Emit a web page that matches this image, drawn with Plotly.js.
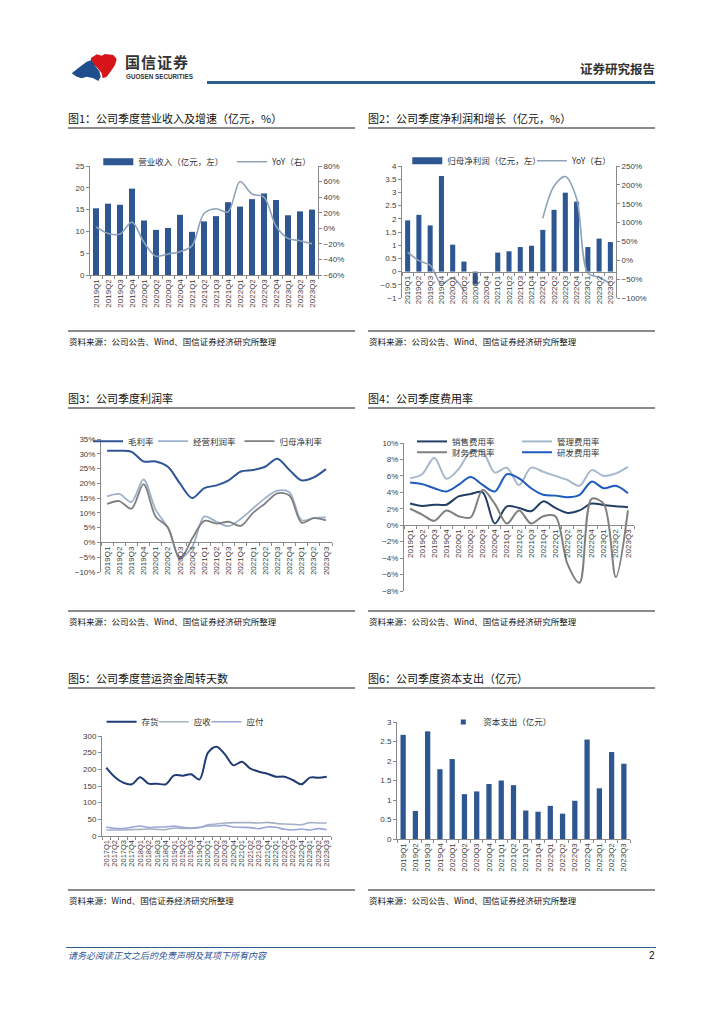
<!DOCTYPE html>
<html><head><meta charset="utf-8">
<script src="https://cdn.plot.ly/plotly-3.0.1.min.js"></script>
<style>
body{margin:0;background:#fff;}
#page{position:relative;width:724px;height:1024px;overflow:hidden;background:#fff;font-family:"Noto Sans CJK SC","Noto Sans",sans-serif;}
.abs{position:absolute;white-space:nowrap;}
.ttl{font-size:11px;color:#111;line-height:14px;}
.src{font-size:8.5px;color:#111;line-height:12px;}
.rule{position:absolute;height:1.5px;background:#8c8c8c;}
.chart{position:absolute;}
</style></head><body><div id="page">
<svg class="abs" style="left:68px;top:50px" width="52" height="36" viewBox="0 0 52 36">
<polygon fill="#D7141A" points="22.7,8.3 28.7,4.3 33.7,5.7 37,4 45.3,5 48.7,9 47,15 43.7,20 38.7,26.7 34.7,28.3 33.7,23.3 29.3,17.7 23.7,13.3"/>
<polygon fill="#1F4E8C" points="3.7,23.3 12,16.7 18.7,11.7 23.7,10 27,15.7 31.3,21 32.7,26.7 30.3,31 25.3,28.3 18.7,26.7 13.7,28.3 8.7,26.7"/>
</svg>
<div class="abs" style="left:125px;top:52px;font-size:15px;font-weight:700;color:#333;letter-spacing:1px;line-height:20px">国信证券</div>
<div class="abs" style="left:126px;top:73px;font-size:6.3px;font-weight:700;color:#333;font-family:'Liberation Sans',Arial,sans-serif;line-height:8px">GUOSEN SECURITIES</div>
<div class="abs" style="left:580px;top:61px;font-size:12.5px;font-weight:700;color:#333;line-height:16px">证券研究报告</div>
<div class="abs" style="left:207px;top:81px;width:448px;height:2.5px;background:#2E5C8E"></div>

<div class="abs ttl" style="left:68px;top:111px">图1：公司季度营业收入及增速（亿元，%）</div>
<div class="abs ttl" style="left:368px;top:111px">图2：公司季度净利润和增长（亿元，%）</div>
<div class="rule" style="left:68px;top:127px;width:287px"></div>
<div class="rule" style="left:368px;top:127px;width:287px"></div>
<div class="rule" style="left:68px;top:330px;width:287px"></div>
<div class="rule" style="left:368px;top:330px;width:287px"></div>
<div class="abs src" style="left:69px;top:335px">资料来源：公司公告、Wind、国信证券经济研究所整理</div>
<div class="abs src" style="left:369px;top:335px">资料来源：公司公告、Wind、国信证券经济研究所整理</div>

<div class="abs ttl" style="left:68px;top:391px">图3：公司季度利润率</div>
<div class="abs ttl" style="left:368px;top:391px">图4：公司季度费用率</div>
<div class="rule" style="left:68px;top:407px;width:287px"></div>
<div class="rule" style="left:368px;top:407px;width:287px"></div>
<div class="rule" style="left:68px;top:610px;width:287px"></div>
<div class="rule" style="left:368px;top:610px;width:287px"></div>
<div class="abs src" style="left:69px;top:615px">资料来源：公司公告、Wind、国信证券经济研究所整理</div>
<div class="abs src" style="left:369px;top:615px">资料来源：公司公告、Wind、国信证券经济研究所整理</div>

<div class="abs ttl" style="left:68px;top:671px">图5：公司季度营运资金周转天数</div>
<div class="abs ttl" style="left:368px;top:671px">图6：公司季度资本支出（亿元）</div>
<div class="rule" style="left:68px;top:687px;width:287px"></div>
<div class="rule" style="left:368px;top:687px;width:287px"></div>
<div class="rule" style="left:68px;top:889px;width:287px"></div>
<div class="rule" style="left:368px;top:889px;width:287px"></div>
<div class="abs src" style="left:69px;top:894px">资料来源：Wind、国信证券经济研究所整理</div>
<div class="abs src" style="left:369px;top:894px">资料来源：公司公告、Wind、国信证券经济研究所整理</div>

<div class="abs" style="left:66px;top:947px;width:590px;height:1px;background:#2E5C8E"></div>
<div class="abs" style="left:68px;top:950px;font-size:9px;font-style:italic;color:#2F5597;line-height:12px">请务必阅读正文之后的免责声明及其项下所有内容</div>
<div class="abs" style="left:649px;top:950px;font-size:10px;color:#111;line-height:12px;font-family:'Liberation Sans',Arial,sans-serif">2</div>

<div id="c1" class="chart"></div>
<div id="c2" class="chart"></div>
<div id="c3" class="chart"></div>
<div id="c4" class="chart"></div>
<div id="c5" class="chart"></div>
<div id="c6" class="chart"></div>
</div>
<script>
// ---------------- data ----------------
const quarters19 = ['2019Q1','2019Q2','2019Q3','2019Q4','2020Q1','2020Q2','2020Q3','2020Q4','2021Q1','2021Q2','2021Q3','2021Q4','2022Q1','2022Q2','2022Q3','2022Q4','2023Q1','2023Q2','2023Q3'];
const quarters17 = ['2017Q1','2017Q2','2017Q3','2017Q4','2018Q1','2018Q2','2018Q3','2018Q4','2019Q1','2019Q2','2019Q3','2019Q4','2020Q1','2020Q2','2020Q3','2020Q4','2021Q1','2021Q2','2021Q3','2021Q4','2022Q1','2022Q2','2022Q3','2022Q4','2023Q1','2023Q2','2023Q3'];

const revenue    = [15.3,16.35,16.1,19.8,12.5,10.35,10.8,13.8,9.9,12.3,13.5,16.7,15.7,17.4,18.7,17.2,13.7,14.6,15.0];
const revenueYoY = [1.8,-6.6,-7.4,7.9,-18,-36,-33,-30,-22.6,19,25,21,60,44,40,3,-13,-16,-20];

const netProfit    = [1.94,2.15,1.75,3.62,1.02,0.38,-0.49,null,0.72,0.77,0.93,0.98,1.58,2.34,2.99,2.65,0.93,1.25,1.12];
const netProfitYoY = [21.7,-1,-13,-62,-47,-80,null,null,null,null,null,null,111.6,197,222,164,-34,-45,-62];

const grossMargin     = [31.0,31.0,30.7,27.4,27.4,25.6,19.9,15.0,18.4,19.3,21.0,24.0,24.5,25.6,28.3,24.5,21.0,22.0,24.8];
const operatingMargin = [15.6,16.4,13.7,21.3,11.0,5.0,-5.2,-1.5,8.8,7.0,5.5,8.0,11.5,15.0,17.5,17.0,7.5,8.3,8.5];
const netMargin       = [13.0,14.0,11.4,19.7,8.7,5.1,-5.7,1.3,7.3,6.4,7.0,5.6,10.0,13.2,16.6,15.9,6.7,8.2,7.5];

const sellingRate = [2.64,2.34,2.5,2.5,3.5,3.8,4.0,0.2,2.3,2.1,1.7,2.9,2.1,1.5,1.8,2.64,2.45,2.3,2.2];
const adminRate   = [5.7,6.2,8.2,5.66,6.8,8.9,8.9,6.4,7.0,4.9,7.0,6.5,6.0,5.5,4.8,6.7,6.0,6.3,7.1];
const financeRate = [2.0,1.3,0.53,1.8,1.1,0.94,4.3,2.6,0.2,1.8,0.2,1.1,1.1,-4.7,-7.0,3.2,2.6,-6.3,1.8];
const rdRate      = [5.2,5.0,4.5,4.1,4.9,5.85,4.9,4.1,6.2,5.7,4.5,3.7,3.6,3.4,3.7,5.3,4.5,4.8,3.9];

const inventoryDays  = [205,177,160,155,176,157,157,155,182,181,185,170,250,268,245,212,223,202,193,187,178,178,168,155,175,175,178];
const receivableDays = [18,18,18,19,20,21,20,19,24,23,23,25,34,36,39,40,40,40,39,41,38,36,35,34,40,39,39];
const payableDays    = [27,23,22,26,30,25,27,27,30,26,24,26,30,30,32,27,26,25,22,27,26,20,18,21,18,22,19];

const capex = [2.67,0.72,2.76,1.79,2.05,1.15,1.22,1.41,1.50,1.38,0.73,0.70,0.85,0.65,0.98,2.55,1.30,2.23,1.93];

// ---------------- helpers ----------------
const CJK = '"Noto Sans CJK SC", "Noto Sans", sans-serif';
const LAT = '"Liberation Sans", Arial, sans-serif';
const BAR = '#2E5792';
const AX = {showgrid:false, zeroline:false, showline:true, linecolor:'#8a8a8a', linewidth:1,
  ticks:'outside', ticklen:3, tickcolor:'#8a8a8a', tickfont:{family:LAT, size:8, color:'#404040'}, fixedrange:true};
function ax(o){ return Object.assign({}, AX, o); }
function xcat(n, o){ return ax(Object.assign({type:'category', tickangle:-90, tickson:'boundaries', tickmode:'linear', tick0:0, dtick:1, range:[-0.5, n-0.5]}, o||{})); }

function mk(id, box, pa, traces, layout, legends){
  const el = document.getElementById(id);
  el.style.left = box[0]+'px'; el.style.top = box[1]+'px';
  el.style.width = box[2]+'px'; el.style.height = box[3]+'px';
  const W = pa[1]-pa[0], H = pa[3]-pa[2];
  layout.width = box[2]; layout.height = box[3];
  layout.margin = {l:pa[0]-box[0], r:box[0]+box[2]-pa[1], t:pa[2]-box[1], b:box[1]+box[3]-pa[3], pad:0};
  layout.paper_bgcolor = 'rgba(0,0,0,0)'; layout.plot_bgcolor = 'rgba(0,0,0,0)';
  layout.showlegend = true;
  layout.font = {family:CJK, color:'#333'};
  legends.forEach((lg, i) => {
    const key = i === 0 ? 'legend' : 'legend' + (i+1);
    layout[key] = {x:(lg[0]-pa[0])/W, y:(pa[3]-lg[1])/H, xanchor:'left', yanchor:'middle',
      orientation:'h', bgcolor:'rgba(0,0,0,0)', borderwidth:0, itemwidth:30,
      font:{family:CJK, size:8.5, color:'#333'}};
  });
  Plotly.newPlot(el, traces, layout, {staticPlot:true, displayModeBar:false});
}
function lgKey(i){ return i === 0 ? 'legend' : 'legend' + (i+1); }
const spl = {shape:'spline', smoothing:0.9};

// ---------------- chart 1 ----------------
mk('c1', [60,135,300,175], [89.7,317.7,152.7,275], [
  {type:'bar', x:quarters19, y:revenue, marker:{color:BAR}, showlegend:false, name:'营业收入（亿元，左）'},
  {type:'scatter', mode:'lines', x:[null], y:[null], line:{color:BAR, width:7}, name:'营业收入（亿元，左）', legend:'legend'},
  {type:'scatter', mode:'lines', x:quarters19, y:revenueYoY, yaxis:'y2', line:Object.assign({color:'#8EA2BA', width:1.6}, spl), name:'YoY（右）', legend:'legend2'}
], {bargap:0.5,
  xaxis:xcat(19),
  yaxis:ax({range:[0,25], dtick:5}),
  yaxis2:ax({overlaying:'y', side:'right', range:[-60,80], dtick:20, ticksuffix:'%'})
}, [[98,148],[231.7,148]]);

// ---------------- chart 2 ----------------
mk('c2', [360,135,300,175], [401.7,616.3,166,298.3], [
  {type:'bar', x:quarters19, y:netProfit, marker:{color:BAR}, showlegend:false, name:'归母净利润（亿元，左）'},
  {type:'scatter', mode:'lines', x:[null], y:[null], line:{color:BAR, width:7}, name:'归母净利润（亿元，左）', legend:'legend'},
  {type:'scatter', mode:'lines', x:quarters19, y:netProfitYoY, yaxis:'y2', connectgaps:false, line:Object.assign({color:'#8EA2BA', width:1.6}, spl), name:'YoY（右）', legend:'legend2'}
], {bargap:0.55,
  xaxis:xcat(19, {anchor:'free', position:0.2}),
  yaxis:ax({range:[-1,4], dtick:0.5}),
  yaxis2:ax({overlaying:'y', side:'right', range:[-100,250], dtick:50, ticksuffix:'%'})
}, [[407,160.7],[532,160.7]]);

// ---------------- chart 3 ----------------
const c3series = [
  [grossMargin, '毛利率', '#2F5597', 2],
  [operatingMargin, '经营利润率', '#9DB1CD', 1.8],
  [netMargin, '归母净利率', '#7F7F7F', 1.8]
];
mk('c3', [60,415,300,175], [101,332,432.7,571.7],
  c3series.map((s,i) => ({type:'scatter', mode:'lines', x:quarters19, y:s[0], name:s[1], legend:lgKey(i), line:Object.assign({color:s[2], width:s[3]}, spl)})),
  {xaxis:xcat(19, {anchor:'free', position:10/45}),
   yaxis:ax({range:[-10,35], dtick:5, ticksuffix:'%'})},
  [[88,435],[153,435],[239.5,435]]);

// ---------------- chart 4 ----------------
const c4series = [
  [sellingRate, '销售费用率', '#243F66'],
  [adminRate, '管理费用率', '#A7B7CC'],
  [financeRate, '财务费用率', '#7F7F7F'],
  [rdRate, '研发费用率', '#1F5BBE']
];
mk('c4', [360,415,300,190], [404,634,431.7,590.7],
  c4series.map((s,i) => ({type:'scatter', mode:'lines', x:quarters19, y:s[0], name:s[1], legend:lgKey(i), line:Object.assign({color:s[2], width:2}, spl)})),
  {xaxis:xcat(19, {anchor:'free', position:8/18}),
   yaxis:ax({range:[-8,10], dtick:2, ticksuffix:'%'})},
  [[412,430],[517,430],[412,441.7],[517,441.7]]);

// ---------------- chart 5 ----------------
const c5series = [
  [inventoryDays, '存货', '#1F3A74', 2],
  [receivableDays, '应收', '#A5B1C2', 1.6],
  [payableDays, '应付', '#9BA6D8', 1.6]
];
mk('c5', [60,695,300,190], [102.4,331,728.3,836],
  c5series.map((s,i) => ({type:'scatter', mode:'lines', x:quarters17, y:s[0], name:s[1], legend:lgKey(i), line:Object.assign({color:s[2], width:s[3]}, spl)})),
  {xaxis:xcat(27, {tickfont:{family:LAT, size:7.5, color:'#404040'}}),
   yaxis:ax({range:[0,300], dtick:50})},
  [[102,713],[154,713],[206.7,713]]);

// ---------------- chart 6 ----------------
mk('c6', [360,695,300,190], [396.5,630.5,708.3,839.3], [
  {type:'bar', x:quarters19, y:capex, marker:{color:BAR}, showlegend:false, name:'资本支出（亿元）'},
  {type:'scatter', mode:'markers', x:[null], y:[null], marker:{color:BAR, symbol:'square', size:5}, name:'资本支出（亿元）', legend:'legend'}
], {bargap:0.57,
  xaxis:xcat(19),
  yaxis:ax({range:[0,3], dtick:0.5})
}, [[443,708.3]]);
</script>
</body></html>
